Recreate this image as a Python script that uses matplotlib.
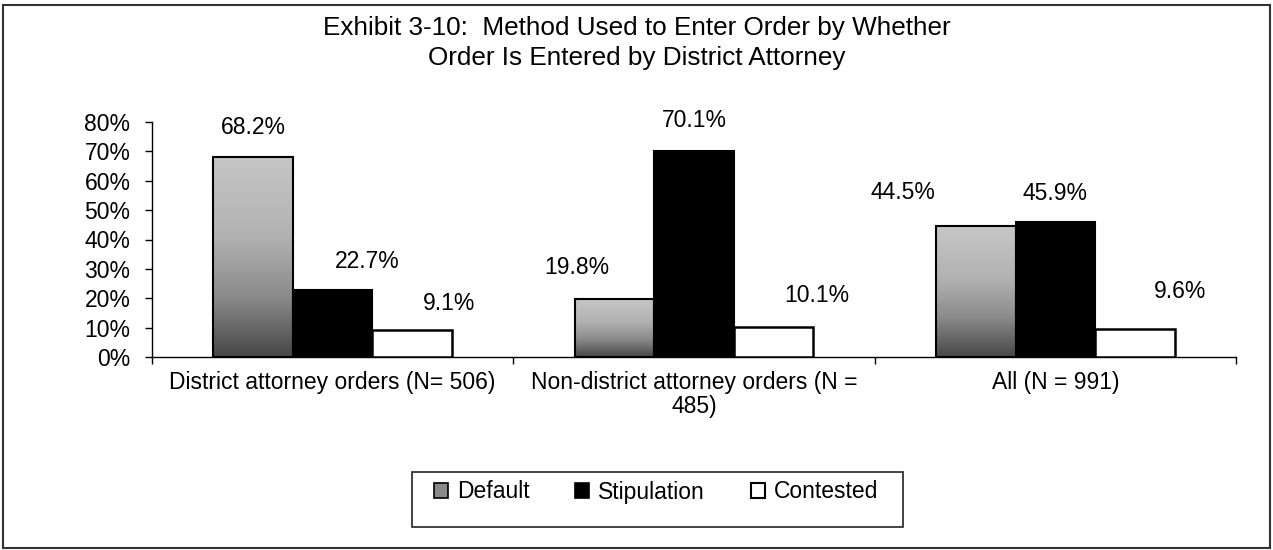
import matplotlib
matplotlib.use("Agg")
import matplotlib.pyplot as plt
import numpy as np
from matplotlib.patches import Rectangle, Patch
from matplotlib.colors import LinearSegmentedColormap

# ---- data ----
categories = ["District attorney orders (N= 506)",
              "Non-district attorney orders (N =\n485)",
              "All (N = 991)"]
series = ["Default", "Stipulation", "Contested"]
default_vals = [68.2, 19.8, 44.5]
stipulation_vals = [22.7, 70.1, 45.9]
contested_vals = [9.1, 10.1, 9.6]
yticks = [0, 10, 20, 30, 40, 50, 60, 70, 80]
ytick_labels = [f"{t}%" for t in yticks]
title = "Exhibit 3-10:  Method Used to Enter Order by Whether\nOrder Is Entered by District Attorney"

# ---- style ----
plt.rcParams['font.family'] = ['Liberation Sans', 'DejaVu Sans']
FS = 16.5
W, H = 1273, 550
fig = plt.figure(figsize=(W / 100, H / 100), dpi=100)
ax = fig.add_axes([152 / W, 1 - 357 / H, (1236 - 152) / W, (357 - 122) / H])

x = np.arange(len(categories))
bw = 0.22
offsets = [-bw, 0, bw]

grad_cmap = LinearSegmentedColormap.from_list(
    "grad", [(0.0, "#474747"), (0.3, "#8a8a8a"), (0.6, "#b2b2b2"), (1.0, "#c6c6c6")])
grad = np.linspace(0, 1, 256).reshape(-1, 1)

# Default bars with gradient fill
def_bars = ax.bar(x + offsets[0], default_vals, bw, facecolor="none",
                  edgecolor="black", linewidth=1.5, zorder=3)
for b in def_bars:
    x0, y0 = b.get_x(), b.get_y()
    im = ax.imshow(grad, cmap=grad_cmap, origin="lower", aspect="auto",
                   extent=(x0, x0 + b.get_width(), y0, y0 + b.get_height()),
                   zorder=2, interpolation="bilinear")
    im.set_clip_path(b)

stip_bars = ax.bar(x + offsets[1], stipulation_vals, bw, facecolor="black",
                   edgecolor="black", linewidth=1.5, zorder=3)
cont_bars = ax.bar(x + offsets[2], contested_vals, bw, facecolor="white",
                   edgecolor="black", linewidth=1.8, zorder=3)

# value labels (offsets in pixels from bar top)
label_offsets = [
    [(0, 29), (-38, 31), (-73, 34)],
    [(35, 29), (0, 31), (0, 29)],
    [(37, 27), (43, 32), (45, 37)],
]
for bars, offs in zip([def_bars, stip_bars, cont_bars], label_offsets):
    for b, (dx, dy) in zip(bars, offs):
        v = b.get_height()
        ax.annotate(f"{v:.1f}%", xy=(b.get_x() + b.get_width() / 2, v),
                    xytext=(dx, dy), textcoords="offset pixels",
                    ha="center", va="center", fontsize=FS, zorder=5,
                    annotation_clip=False)

ax.set_xlim(-0.5, len(categories) - 0.5)
ax.set_ylim(0, 80)
ax.set_yticks(yticks)
ax.set_yticklabels(ytick_labels, fontsize=FS)
ax.tick_params(axis="y", length=5, width=1, direction="out", pad=10.5)

ax.set_xticks(np.arange(len(categories) + 1) - 0.5)
ax.set_xticklabels([])
ax.set_xticks(x, minor=True)
ax.set_xticklabels(categories, minor=True, fontsize=FS, linespacing=1.05)
ax.tick_params(axis="x", which="major", length=5, width=1, direction="out")
ax.tick_params(axis="x", which="minor", length=0, pad=10)

for s in ["top", "right"]:
    ax.spines[s].set_visible(False)
for s in ["left", "bottom"]:
    ax.spines[s].set_linewidth(1)
    ax.spines[s].set_color("black")
ax.set_facecolor("none")

fig.text(0.5, 1 - 43 / H, title, ha="center", va="center",
         fontsize=18.8, linespacing=1.35)

# legend
handles = [Patch(facecolor="#8a8a8a", edgecolor="black", linewidth=1.2),
           Patch(facecolor="black", edgecolor="black", linewidth=1.2),
           Patch(facecolor="white", edgecolor="black", linewidth=1.5)]
fig.legend(handles, series, loc="center", bbox_to_anchor=(656 / W, 1 - 492 / H),
           ncol=3, frameon=False, handlelength=0.6, handleheight=0.6,
           handletextpad=0.4, columnspacing=2.0, fontsize=FS)
fig.add_artist(Rectangle((412 / W, 1 - 527 / H), (903 - 412) / W, (527 - 472) / H,
                         transform=fig.transFigure, fill=False,
                         edgecolor="#222222", linewidth=1.2))
# outer frame
fig.add_artist(Rectangle((2.5 / W, 1 - 548 / H), (1270 - 2.5) / W, (548 - 5) / H,
                         transform=fig.transFigure, fill=False,
                         edgecolor="#333333", linewidth=1.5))

fig.savefig("out.png", dpi=100)
